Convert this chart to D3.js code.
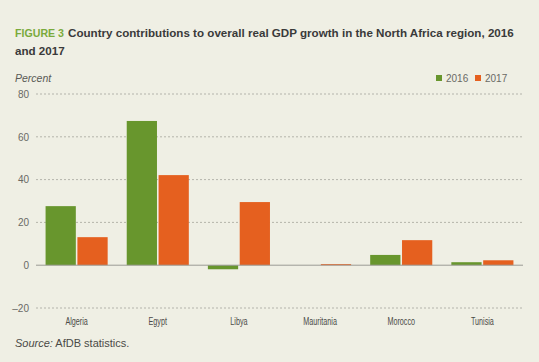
<!DOCTYPE html>
<html>
<head>
<meta charset="utf-8">
<script src="https://cdn.jsdelivr.net/npm/d3@7"></script>
<style>
  body { margin: 0; background: #efefe4; }
  svg { display: block; font-family: "Liberation Sans", Arial, sans-serif; }
</style>
</head>
<body>
<div id="app"></div>
<script>
const countries = ["Algeria", "Egypt", "Libya", "Mauritania", "Morocco", "Tunisia"];
const years = ["2016", "2017"];
const values2016 = [27.6, 67.4, -1.9, 0, 4.8, 1.4];
const values2017 = [13.1, 42.1, 29.5, 0.5, 11.7, 2.3];
const yTicks = [-20, 0, 20, 40, 60, 80];

const width = 539, height = 362;
const colors = { "2016": "#68962d", "2017": "#e5601f" };
const margin = { left: 36, right: 16 };

const svg = d3.select("#app").append("svg")
    .attr("width", width)
    .attr("height", height);

svg.append("rect").attr("width", width).attr("height", height).attr("fill", "#efefe4");

// squeeze a text to a given share of its natural width
const squeeze = (sel, k) => sel.each(function() {
    const w = this.getComputedTextLength();
    d3.select(this).attr("textLength", w * k).attr("lengthAdjust", "spacingAndGlyphs");
});

// shrink font so the text takes the given width
const fitWidth = (sel, target) => sel.each(function() {
    const t = d3.select(this);
    const fs = +t.attr("font-size");
    const w = this.getComputedTextLength();
    t.attr("font-size", fs * target / w);
});

// title
const titleFs = 13.2;
svg.append("text")
    .attr("x", 15).attr("y", 37)
    .attr("font-size", titleFs).attr("font-weight", "bold").attr("fill", "#7aaa3c")
    .text("FIGURE 3")
    .call(fitWidth, 49);
const titleMain = svg.append("text")
    .attr("x", 68).attr("y", 37)
    .attr("font-size", titleFs).attr("font-weight", "bold").attr("fill", "#3a3a3a")
    .text("Country contributions to overall real GDP growth in the North Africa region, 2016")
    .call(fitWidth, 446);
svg.append("text")
    .attr("x", 15).attr("y", 55)
    .attr("font-size", titleMain.attr("font-size")).attr("font-weight", "bold").attr("fill", "#3a3a3a")
    .text("and 2017");

const y = d3.scaleLinear().domain([-20, 80]).range([308, 94]);
const x0 = d3.scaleBand().domain(countries).range([margin.left, width - margin.right]).paddingInner(0.235).paddingOuter(0.118);
const x1 = d3.scaleBand().domain(years).range([0, x0.bandwidth()]).paddingInner(0.05);

// gridlines
svg.append("g")
    .selectAll("line")
    .data(yTicks.filter(d => d !== 0))
    .join("line")
    .attr("x1", margin.left).attr("x2", width - margin.right)
    .attr("y1", d => y(d)).attr("y2", d => y(d))
    .attr("stroke", "#a5a59c").attr("stroke-width", 0.8)
    .attr("stroke-dasharray", "2,2");

// y axis labels
const yAxis = d3.axisLeft(y).tickValues(yTicks).tickSize(0).tickPadding(7)
    .tickFormat(d => d < 0 ? "\u2013" + Math.abs(d) : d);
svg.append("g")
    .attr("transform", `translate(${margin.left},0)`)
    .call(yAxis)
    .call(g => g.select(".domain").remove())
    .call(g => g.selectAll("text").attr("font-size", 10).attr("fill", "#6a6a64")
        .attr("font-family", "Liberation Sans, Arial, sans-serif"));

svg.append("text")
    .attr("x", 15).attr("y", 82)
    .attr("font-size", 10.5).attr("font-style", "italic").attr("fill", "#5a5a55")
    .text("Percent");

// bars
const rows = countries.map((c, i) => ({ country: c, values: [
    { year: "2016", value: values2016[i] },
    { year: "2017", value: values2017[i] }
] }));

svg.append("g")
    .selectAll("g")
    .data(rows)
    .join("g")
    .attr("transform", d => `translate(${x0(d.country)},0)`)
    .selectAll("rect")
    .data(d => d.values)
    .join("rect")
    .attr("x", d => x1(d.year))
    .attr("width", x1.bandwidth())
    .attr("y", d => y(Math.max(0, d.value)))
    .attr("height", d => Math.abs(y(d.value) - y(0)))
    .attr("fill", d => colors[d.year]);

// zero line
svg.append("line")
    .attr("x1", margin.left).attr("x2", width - margin.right)
    .attr("y1", y(0)).attr("y2", y(0))
    .attr("stroke", "#9a9a94").attr("stroke-width", 1);

// x labels
const xAxis = d3.axisBottom(x0).tickSize(0).tickPadding(0);
svg.append("g")
    .attr("transform", `translate(0,318)`)
    .call(xAxis)
    .call(g => g.select(".domain").remove())
    .call(g => g.selectAll("text").attr("font-size", 10).attr("fill", "#4a4a46")
        .attr("font-family", "Liberation Sans, Arial, sans-serif")
        .call(squeeze, 0.72));

// legend
const legend = svg.append("g").attr("transform", "translate(436,75)");
const legendItems = legend.selectAll("g")
    .data(years)
    .join("g")
    .attr("transform", (d, i) => `translate(${i * 39},0)`);
legendItems.append("rect").attr("width", 6).attr("height", 6).attr("fill", d => colors[d]);
legendItems.append("text").attr("x", 10).attr("y", 6.5)
    .attr("font-size", 10).attr("fill", "#6a6a64").text(d => d);

// source
const source = svg.append("text")
    .attr("x", 15).attr("y", 347)
    .attr("font-size", 11).attr("fill", "#4a4a46");
source.append("tspan").attr("font-style", "italic").text("Source:");
source.append("tspan").text(" AfDB statistics.");
</script>
</body>
</html>
